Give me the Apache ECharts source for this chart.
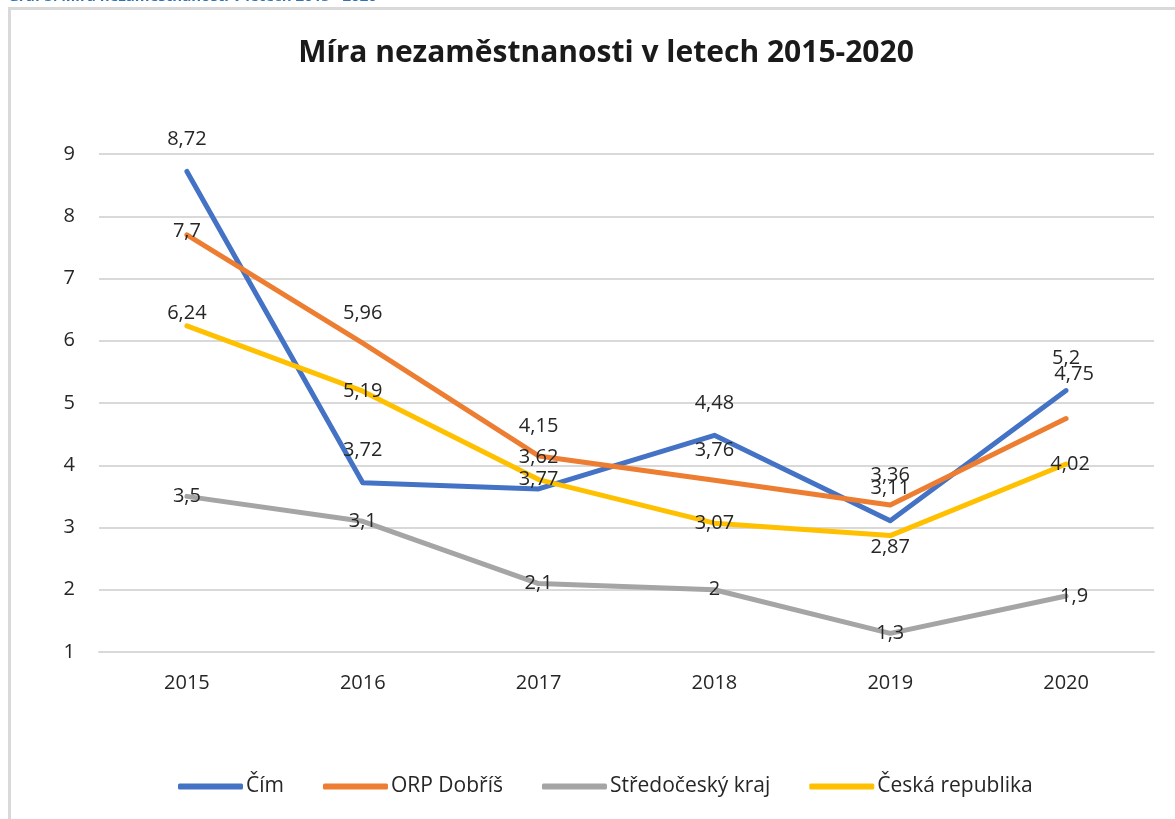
<!DOCTYPE html>
<html>
<head>
<meta charset="utf-8">
<script src="https://cdn.jsdelivr.net/npm/echarts@6/dist/echarts.min.js"></script>
<style>
  html, body { margin: 0; padding: 0; background: #fff; }
  #main { width: 1175px; height: 819px; }
</style>
</head>
<body>
<div id="main"></div>
<script>
// data
const years = ['2015', '2016', '2017', '2018', '2019', '2020'];
const cim = [8.72, 3.72, 3.62, 4.48, 3.11, 5.2];
const orpDobris = [7.7, 5.96, 4.15, 3.76, 3.36, 4.75];
const stredocesky = [3.5, 3.1, 2.1, 2, 1.3, 1.9];
const ceskaRepublika = [6.24, 5.19, 3.77, 3.07, 2.87, 4.02];
const yTicks = [1, 2, 3, 4, 5, 6, 7, 8, 9];

const FONT = "'Open Sans', 'Noto Sans', sans-serif";
const chart = echarts.init(document.getElementById('main'));

const fmt = v => String(v).replace('.', ',');

function mkSeries(name, values, color, labelPos, overrides) {
  return {
    name: name,
    type: 'line',
    data: values.map((v, i) => {
      const o = overrides && overrides[i];
      return o ? { value: v, label: o } : v;
    }),
    showSymbol: true,
    symbol: 'circle',
    symbolSize: 0.1,
    lineStyle: { color: color, width: 5, cap: 'round', join: 'round' },
    itemStyle: { color: color },
    label: Object.assign({
      show: true,
      color: '#262626',
      fontSize: 20,
      fontFamily: FONT,
      formatter: p => fmt(p.value)
    }, labelPos),
    emphasis: { disabled: true },
    z: 2
  };
}

const option = {
  animation: false,
  textStyle: { fontFamily: FONT },
  graphic: [
    {
      type: 'rect',
      shape: { x: 9.5, y: 8.5, width: 1250, height: 900 },
      style: { fill: '#fff', stroke: '#d9d9d9', lineWidth: 3 },
      z: -10
    },
    {
      type: 'text',
      left: 8,
      top: -11,
      style: {
        text: 'Graf 3: Míra nezaměstnanosti v letech 2015 - 2020',
        fill: '#2e74b5',
        font: 'bold 15px ' + FONT
      }
    }
  ],
  title: {
    text: 'Míra nezaměstnanosti v letech 2015-2020',
    left: 601,
    top: 33,
    textAlign: 'center',
    textStyle: { fontSize: 30, fontWeight: 'bold', color: '#1a1a1a', fontFamily: FONT }
  },
  grid: { left: 99, right: 21, top: 154, bottom: 167 },
  legend: {
    bottom: 17,
    left: 173,
    itemWidth: 65,
    itemHeight: 6,
    itemGap: 39,
    icon: 'roundRect',
    textStyle: { fontSize: 21, color: '#262626', fontFamily: FONT, padding: [0, 0, 0, -2] },
    data: ['Čím', 'ORP Dobříš', 'Středočeský kraj', 'Česká republika']
  },
  xAxis: {
    type: 'category',
    data: years,
    boundaryGap: true,
    axisLine: { show: true, lineStyle: { color: '#d9d9d9', width: 2 } },
    axisTick: { show: false },
    axisLabel: { color: '#262626', fontSize: 20, margin: 21, fontFamily: FONT }
  },
  yAxis: {
    type: 'value',
    min: yTicks[0],
    max: yTicks[yTicks.length - 1],
    interval: 1,
    axisLine: { show: false },
    axisTick: { show: false },
    splitLine: { lineStyle: { color: '#d9d9d9', width: 2 } },
    axisLabel: { color: '#262626', fontSize: 20, margin: 24, fontFamily: FONT }
  },
  series: [
    mkSeries('Čím', cim, '#4472c4', { position: 'top', distance: 22 }),
    mkSeries('ORP Dobříš', orpDobris, '#ed7d31', { position: 'top', distance: 20 },
      { 0: { position: 'top', distance: -6 }, 5: { position: 'top', distance: 34, offset: [8, 0] } }),
    mkSeries('Středočeský kraj', stredocesky, '#a5a5a5', { position: 'inside' },
      { 5: { position: 'inside', offset: [8, 0] } }),
    mkSeries('Česká republika', ceskaRepublika, '#ffc000', { position: 'inside' },
      { 0: { position: 'top', distance: 2 }, 4: { position: 'bottom', distance: 2 }, 5: { position: 'inside', offset: [4, 0] } })
  ]
};

chart.setOption(option);
</script>
</body>
</html>
